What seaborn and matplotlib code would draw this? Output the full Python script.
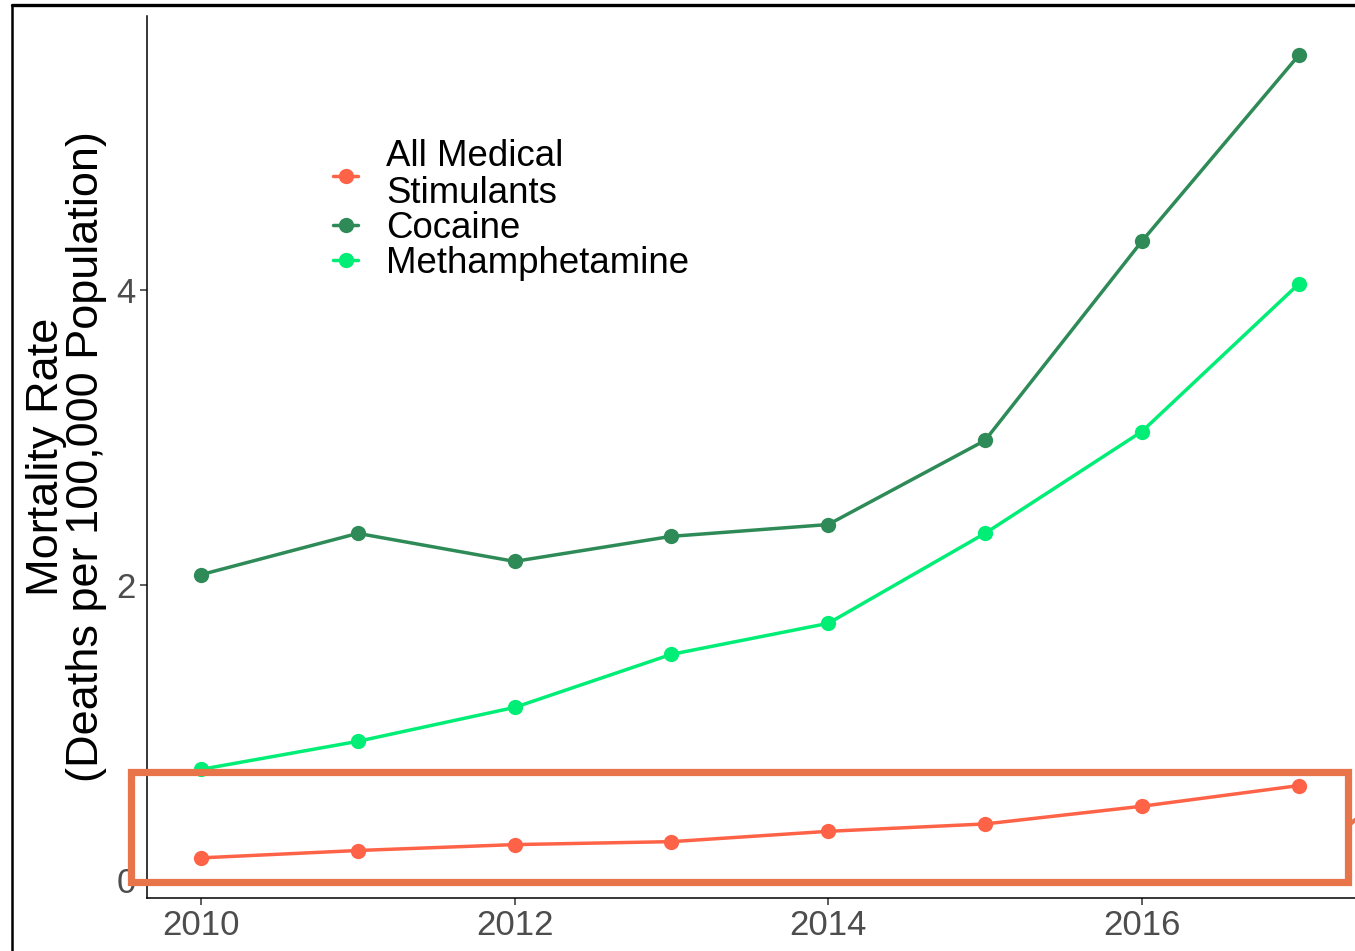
import matplotlib
matplotlib.use("Agg")
import matplotlib.pyplot as plt
import seaborn as sns
import pandas as pd
from matplotlib.patches import Rectangle
from matplotlib.lines import Line2D

years = [2010, 2011, 2012, 2013, 2014, 2015, 2016, 2017]
categories = ["All Medical Stimulants", "Cocaine", "Methamphetamine"]
legend_labels = ["All Medical\nStimulants", "Cocaine", "Methamphetamine"]
medical = [0.15, 0.20, 0.24, 0.26, 0.33, 0.38, 0.50, 0.64]
cocaine = [2.07, 2.35, 2.16, 2.33, 2.41, 2.98, 4.33, 5.59]
meth = [0.75, 0.94, 1.17, 1.53, 1.74, 2.35, 3.04, 4.04]
colors = ["#FF6347", "#2E8B57", "#00EE76"]
y_ticks = [0, 2, 4]
x_ticks = [2010, 2012, 2014, 2016]

rows = []
for cat, vals in zip(categories, [medical, cocaine, meth]):
    for yr, v in zip(years, vals):
        rows.append({"Year": yr, "Rate": v, "Drug": cat})
df = pd.DataFrame(rows)

sns.set_theme(style="white")
plt.rcParams["font.family"] = ["Liberation Sans", "DejaVu Sans"]

W, H = 1355, 951
fig = plt.figure(figsize=(W / 100, H / 100), dpi=100)
ax = fig.add_axes([147 / W, 1 - 898 / H, 1 - 147 / W, (898 - 16) / H])

sns.lineplot(data=df, x="Year", y="Rate", hue="Drug", hue_order=categories,
             palette=colors, marker="o", markersize=11, markeredgewidth=0,
             linewidth=2.5, ax=ax, legend=True)

ax.set_xlim(2010 - (201 - 147) / 156.8, 2010 + (W - 201) / 156.8)
ax.set_ylim(-18 / 147.5, (880 - 16) / 147.5)
ax.set_xticks(x_ticks)
ax.set_xticklabels([str(x) for x in x_ticks])
ax.set_yticks(y_ticks)
ax.set_yticklabels([str(y) for y in y_ticks])
ax.tick_params(axis="both", labelsize=25, labelcolor="#4D4D4D", colors="#333333",
               length=5, width=1.1, direction="out", bottom=True, left=True, pad=3)
ax.set_xlabel("")
ax.set_ylabel("Mortality Rate\n(Deaths per 100,000 Population)", fontsize=32.5,
              color="black", linespacing=0.95, labelpad=7)

for s in ["top", "right"]:
    ax.spines[s].set_visible(False)
for s in ["left", "bottom"]:
    ax.spines[s].set_color("black")
    ax.spines[s].set_linewidth(1.1)

h, l = ax.get_legend_handles_labels()
leg = ax.legend(h, legend_labels, loc="upper left",
                bbox_to_anchor=(315 / W, 1 - 121 / H), bbox_transform=fig.transFigure,
                frameon=False, fontsize=26.4, handlelength=0.68, handletextpad=0.76,
                labelspacing=0.0, borderpad=0)
for t in leg.get_texts():
    t.set_color("black")
    t.set_linespacing(1.05)

# slide frame
fig.add_artist(Line2D([12 / W, 1], [1 - 5 / H, 1 - 5 / H], transform=fig.transFigure,
                      color="black", linewidth=2.4))
fig.add_artist(Line2D([12 / W, 12 / W], [0, 1 - 5 / H], transform=fig.transFigure,
                      color="black", linewidth=1.8))

# highlight box
box_c = "#E8744A"
fig.add_artist(Rectangle((131 / W, 1 - 882 / H), (1348 - 131) / W, (882 - 772) / H,
                         transform=fig.transFigure, fill=False, edgecolor=box_c,
                         linewidth=5.2))
fig.add_artist(Line2D([1348 / W, 1], [1 - 826 / H, 1 - 820 / H], transform=fig.transFigure,
                      color=box_c, linewidth=3))

fig.savefig("out.png", dpi=100)
